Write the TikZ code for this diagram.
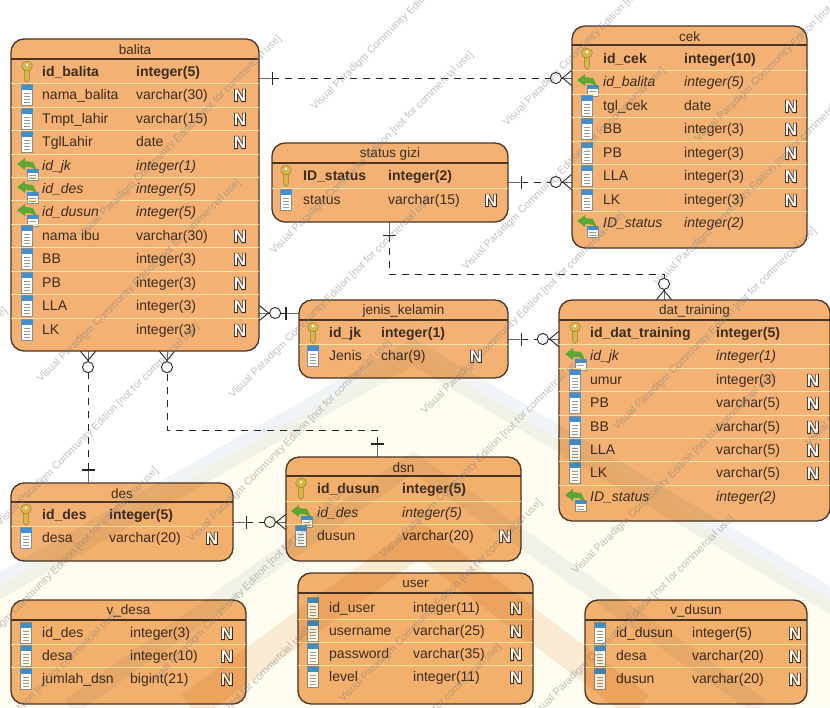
\documentclass[tikz,border=0pt]{standalone}
\usepackage{fontspec}
\setmainfont{Liberation Sans}
\newfontfamily\nullfat[FakeBold=9]{Liberation Sans Bold}
\usepackage{xcolor}
\usetikzlibrary{arrows.meta}
\definecolor{boxfill}{HTML}{F3B273}
\definecolor{boxline}{HTML}{4A3426}
\definecolor{rowline}{HTML}{FAE3A6}
\definecolor{ink}{HTML}{3D2B20}
\definecolor{keygold}{HTML}{D8B84C}
\definecolor{pageblue}{HTML}{3F8FD2}
\definecolor{arrowgreen}{HTML}{5CA833}
\definecolor{logoband}{HTML}{F1F4F6}
\definecolor{logocream}{HTML}{FFFDF0}
\definecolor{logopatch}{HTML}{F8EDDF}
\tikzset{
  erbox/.style={rectangle, rounded corners=13pt, draw=boxline, fill=boxfill, line width=1.3pt, inner sep=0pt, outer sep=0pt},
  ertitle/.style={font=\fontsize{13.5}{15}\selectfont, text=ink, inner sep=0pt},
  erhead/.style={draw=boxline, line width=1.2pt},
  rowsep/.style={draw=rowline, line width=1pt},
  cell/.style={anchor=mid west, inner sep=0pt, text=ink, yshift=-2pt, font=\fontsize{14}{16}\selectfont},
  pkrow/.style={cell, font=\fontsize{14}{16}\selectfont\bfseries},
  colrow/.style={cell},
  fkrow/.style={cell, font=\fontsize{14}{16}\selectfont\itshape},
  nullmark/.style={inner sep=0pt, text=white, yshift=-.5pt, font=\fontsize{17}{18}\selectfont\bfseries},
  barstart/.tip={Rectangle[length=.9pt,width=13pt,sep=0pt]Rectangle[length=13pt,width=.9pt,sep=0pt]},
  crowend/.tip={Circle[length=12pt,fill=white,sep=0pt]Straight Barb[reversed,length=9pt,width=15pt,sep=-9pt]Rectangle[length=9pt,width=.9pt,sep=0pt]},
  relation/.style={barstart-crowend, draw=black!85, line width=.9pt, dash pattern=on 7pt off 6pt},
  stamp/.style={rotate=45, anchor=west, inner sep=0pt, text=black!50, opacity=.5, font=\fontsize{10.5}{12}\selectfont},
  logotint/.style={fill=logocream, blend mode=multiply},
  logostroke/.style={draw=logoband, line width=24pt, blend mode=multiply, line join=miter},
  pics/pkrowicon/.style={code={
    \draw[draw=keygold!70!black, fill=keygold, line width=.5pt] (-2.4,-3) -- (-2.4,8) -- (0,10.5) -- (2.4,8) -- (2.4,-3) -- cycle;
    \draw[draw=keygold!70!black, fill=keygold, line width=.5pt] (0,-6) ellipse (5.4pt and 4.8pt);
    \fill[white] (0,-7) circle (1.4pt);
  }},
  pics/colrowicon/.style={code={
    \draw[draw=black!45, fill=white, line width=.5pt] (-5.5,-10.5) rectangle (5.5,10.5);
    \fill[pageblue] (-5.5,-10.5) rectangle (5.5,-5);
    \foreach \ly in {-2,1,4,7} \draw[black!40, line width=.8pt] (-3,\ly) -- (3,\ly);
  }},
  pics/fkrowicon/.style={code={
    \draw[draw=black!45, fill=white, line width=.5pt] (0,3) rectangle (11,14);
    \fill[pageblue] (0,3) rectangle (11,6.5);
    \foreach \ly in {9,12} \draw[black!40, line width=.8pt] (2,\ly) -- (9,\ly);
    \fill[arrowgreen] (-10,-2) -- (-2,-8) -- (-2,-5) -- (6,-4) -- (10,4) -- (3,1) -- (-2,1) -- (-2,4) -- cycle;
  }},
}
\newcommand{\tablebox}[7]{
  \node[erbox, minimum width={(#4-#2)*1pt}, minimum height={(#5-#3)*1pt}] (#1) at ({(#2+#4)/2},{(#3+#5)/2}) {};
  \node[ertitle] (#1-title) at ({(#2+#4)/2},{(#3+#6)/2+1}) {#7};
  \draw[erhead] (#1.west |- 0,#6) -- (#1.east |- 0,#6);
}
% table, x of icon, name, type, N, then kind/y/name/type/nullable
\newcommand{\tablerows}[6]{
  \foreach \kind/\yy/\fname/\ftype/\nl [count=\i] in {#6} {
    \ifnum\i>1 \draw[rowsep] (#1.west |- 0,\yy-11.7) -- (#1.east |- 0,\yy-11.7); \fi
    \pic at (#2,\yy) {\kind icon};
    \node[\kind] (#1-\i-name) at (#3,\yy) {\fname};
    \node[\kind] (#1-\i-type) at (#4,\yy) {\ftype};
    \ifnum\nl=1 \node[nullmark] (#1-\i-null) at (#5,\yy) {\rlap{\nullfat\color{ink}N}N}; \fi
  }
}
\begin{document}
\begin{tikzpicture}[x=1pt, y=-1pt]
  \useasboundingbox (0,0) rectangle (830,707);

  % ---- balita ----
  \tablebox{balita}{11}{39}{259}{351}{59}{balita}
  \tablerows{balita}{27}{42}{136}{240}{
    pkrow/72/id\_balita/integer(5)/0, colrow/95/nama\_balita/varchar(30)/1,
    colrow/119/Tmpt\_lahir/varchar(15)/1, colrow/142/TglLahir/date/1,
    fkrow/166/id\_jk/integer(1)/0, fkrow/189/id\_des/integer(5)/0,
    fkrow/212/id\_dusun/integer(5)/0, colrow/236/nama ibu/varchar(30)/1,
    colrow/259/BB/integer(3)/1, colrow/283/PB/integer(3)/1,
    colrow/306/LLA/integer(3)/1, colrow/330/LK/integer(3)/1}

  % ---- cek ----
  \tablebox{cek}{572}{26}{807}{248}{45}{cek}
  \tablerows{cek}{587}{603}{684}{791}{
    pkrow/59/id\_cek/integer(10)/0, fkrow/82/id\_balita/integer(5)/0,
    colrow/106/tgl\_cek/date/1, colrow/129/BB/integer(3)/1,
    colrow/153/PB/integer(3)/1, colrow/176/LLA/integer(3)/1,
    colrow/200/LK/integer(3)/1, fkrow/223/ID\_status/integer(2)/0}

  % ---- status gizi ----
  \tablebox{statusgizi}{272}{143}{508}{222}{163}{status gizi}
  \tablerows{statusgizi}{286}{303}{388}{491}{
    pkrow/176/ID\_status/integer(2)/0, colrow/200/status/varchar(15)/1}

  % ---- jenis_kelamin ----
  \tablebox{jeniskelamin}{299}{300}{508}{378}{320}{jenis\_kelamin}
  \tablerows{jeniskelamin}{313}{329}{381}{476}{
    pkrow/333/id\_jk/integer(1)/0, colrow/356/Jenis/char(9)/1}

  % ---- dat_training ----
  \tablebox{dattraining}{559}{300}{830}{521}{320}{dat\_training}
  \tablerows{dattraining}{575}{590}{716}{813}{
    pkrow/333/id\_dat\_training/integer(5)/0, fkrow/356/id\_jk/integer(1)/0,
    colrow/380/umur/integer(3)/1, colrow/403/PB/varchar(5)/1,
    colrow/427/BB/varchar(5)/1, colrow/450/LLA/varchar(5)/1,
    colrow/473/LK/varchar(5)/1, fkrow/497/ID\_status/integer(2)/0}

  % ---- des ----
  \tablebox{des}{11}{483}{233}{561}{502}{des}
  \tablerows{des}{26}{42}{109}{212}{
    pkrow/515/id\_des/integer(5)/0, colrow/538/desa/varchar(20)/1}

  % ---- dsn ----
  \tablebox{dsn}{286}{457}{521}{561}{476}{dsn}
  \tablerows{dsn}{301}{317}{402}{505}{
    pkrow/489/id\_dusun/integer(5)/0, fkrow/513/id\_des/integer(5)/0,
    colrow/536/dusun/varchar(20)/1}

  % ---- v_desa ----
  \tablebox{vdesa}{11}{600}{246}{704}{620}{v\_desa}
  \tablerows{vdesa}{26}{42}{130}{227}{
    colrow/633/id\_des/integer(3)/1, colrow/656/desa/integer(10)/1,
    colrow/679/jumlah\_dsn/bigint(21)/1}

  % ---- user ----
  \tablebox{user}{298}{573}{533}{704}{593}{user}
  \tablerows{user}{313}{329}{413}{516}{
    colrow/608/id\_user/integer(11)/1, colrow/631/username/varchar(25)/1,
    colrow/654/password/varchar(35)/1, colrow/677/level/integer(11)/1}

  % ---- v_dusun ----
  \tablebox{vdusun}{585}{600}{807}{704}{620}{v\_dusun}
  \tablerows{vdusun}{600}{616}{692}{795}{
    colrow/633/id\_dusun/integer(5)/1, colrow/656/desa/varchar(20)/1,
    colrow/679/dusun/varchar(20)/1}

  % ---- connectors ----
  \draw[relation] (balita.east |- 0,78) -- (cek.west |- 0,78);
  \draw[relation] (statusgizi.east |- 0,182) -- (cek.west |- 0,182);
  \coordinate (statusbend) at (389,274);
  \draw[relation] (statusgizi.south -| statusbend) -- (statusbend) -| (dattraining.north -| 664,0);
  \draw[relation] (jeniskelamin.west |- 0,313) -- (balita.east |- 0,313);
  \draw[relation] (jeniskelamin.east |- 0,339) -- (dattraining.west |- 0,339);
  \draw[relation] (des.north -| 88,0) -- (balita.south -| 88,0);
  \coordinate (dsnbend) at (377,430);
  \draw[relation] (dsn.north -| dsnbend) -- (dsnbend) -| (balita.south -| 167,0);
  \draw[relation] (des.east |- 0,522) -- (dsn.west |- 0,522);

  % ---- logo behind, and stamps ----
  \begin{scope}
    \clip (0,0) rectangle (830,707);
    \fill[logotint] (413,352) -- (830,600) -- (830,707) -- (0,707) -- (0,585) -- cycle;
    \draw[logostroke] (-20,597) -- (413,352) -- (850,612);
    \draw[logostroke, line width=18pt] (70,707) -- (413,462) -- (760,707);
    \draw[logostroke, draw=logopatch, line width=30pt] (190,707) -- (420,540) -- (640,707);
    \foreach \i in {-3,...,3} \foreach \j in {-2,...,7} {
      \pgfmathtruncatemacro{\sx}{272+274*\i-41*\j}
      \pgfmathtruncatemacro{\sy}{253-272*\i+144*\j}
      \pgfmathtruncatemacro{\seen}{and(and(\sx<830,\sx>-230),and(\sy>0,\sy<937))}
      \ifnum\seen=1
        \node[stamp] (stamp\i\j) at (\sx,\sy) {Visual Paradigm Community Edition [not for commercial use]};
      \fi
    }
  \end{scope}
\end{tikzpicture}
\end{document}
